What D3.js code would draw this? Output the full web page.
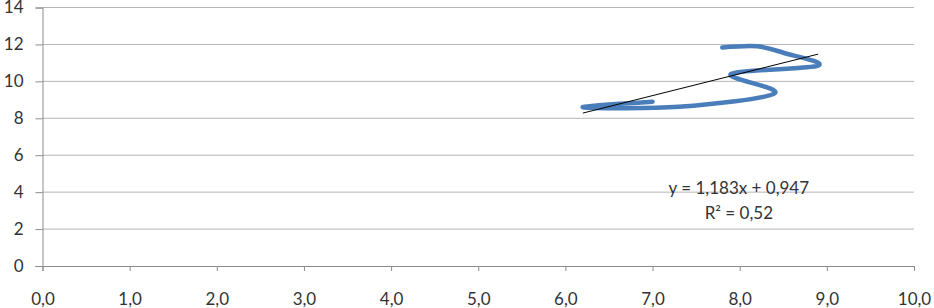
<!DOCTYPE html>
<html>
<head>
<meta charset="utf-8">
<script src="https://cdn.jsdelivr.net/npm/d3@7"></script>
<style>
  body { margin: 0; background: #fff; }
  svg text { font-family: Lato, "Open Sans", sans-serif; fill: #333; }
</style>
</head>
<body>
<svg id="chart"></svg>
<script>
// series points, in the order they were plotted
const xValues = [7.0, 6.2, 7.3, 8.4, 7.9, 8.9, 8.5, 8.2, 7.8];
const yValues = [8.9, 8.6, 8.62, 9.35, 10.4, 10.85, 11.55, 11.9, 11.83];

// linear trendline as printed on the chart
const slope = 1.183;
const intercept = 0.947;
const trendLabels = ["y = 1,183x + 0,947", "R² = 0,52"];

const xTicks = [0, 1, 2, 3, 4, 5, 6, 7, 8, 9, 10];
const yTicks = [0, 2, 4, 6, 8, 10, 12, 14];

//SVG dimensions
const svgWidth = 934;
const svgHeight = 308;
const margin = {top: 7.5, right: 20, bottom: 42, left: 42.5};

const plotW = svgWidth - margin.left - margin.right;
const plotH = svgHeight - margin.top - margin.bottom;

const svg = d3.select("#chart")
    .attr("width", svgWidth)
    .attr("height", svgHeight);

const g = svg.append("g")
    .attr("transform", `translate(${margin.left},${margin.top})`);

const xScale = d3.scaleLinear().domain([0, 10]).range([0, plotW]);
const yScale = d3.scaleLinear().domain([0, 14]).range([plotH, 0]);

const comma = d => d3.format(".1f")(d).replace(".", ",");

//gridlines
g.append("g")
    .selectAll("line")
    .data(yTicks.filter(d => d > 0))
    .enter()
    .append("line")
    .attr("x1", 0)
    .attr("x2", plotW)
    .attr("y1", d => yScale(d))
    .attr("y2", d => yScale(d))
    .attr("stroke", "#b4b4b4")
    .attr("stroke-width", 1);

//y axis
const yAxis = g.append("g")
    .call(d3.axisLeft(yScale).tickValues(yTicks).tickSize(7).tickPadding(12));
yAxis.select(".domain").attr("stroke", "#8c8c8c");
yAxis.selectAll(".tick line").attr("stroke", "#8c8c8c");
yAxis.selectAll(".tick text").style("font-size", "17px").attr("fill", "#333");

//x axis
const xAxis = g.append("g")
    .attr("transform", `translate(0,${plotH})`)
    .call(d3.axisBottom(xScale).tickValues(xTicks).tickFormat(comma).tickSize(5).tickPadding(22));
xAxis.select(".domain").attr("stroke", "#8c8c8c");
xAxis.selectAll(".tick line").attr("stroke", "#8c8c8c");
xAxis.selectAll(".tick text").style("font-size", "17px").attr("fill", "#333");

//smoothed series line
const points = xValues.map((x, i) => [x, yValues[i]]);
const line = d3.line()
    .x(d => xScale(d[0]))
    .y(d => yScale(d[1]))
    .curve(d3.curveCardinal.tension(0));

g.append("path")
    .datum(points)
    .attr("d", line)
    .attr("fill", "none")
    .attr("stroke", "#4a7ebb")
    .attr("stroke-width", 4.5)
    .attr("stroke-linecap", "round")
    .attr("stroke-linejoin", "round");

//trendline
const [xMin, xMax] = d3.extent(xValues);
g.append("line")
    .attr("x1", xScale(xMin))
    .attr("y1", yScale(slope * xMin + intercept))
    .attr("x2", xScale(xMax))
    .attr("y2", yScale(slope * xMax + intercept))
    .attr("stroke", "#000")
    .attr("stroke-width", 1);

//trendline label
g.append("g")
    .selectAll("text")
    .data(trendLabels)
    .enter()
    .append("text")
    .attr("x", xScale(7.99))
    .attr("y", (d, i) => yScale(3.9) + i * 25)
    .attr("text-anchor", "middle")
    .style("font-size", "17px")
    .attr("fill", "#333")
    .text(d => d);
</script>
</body>
</html>
